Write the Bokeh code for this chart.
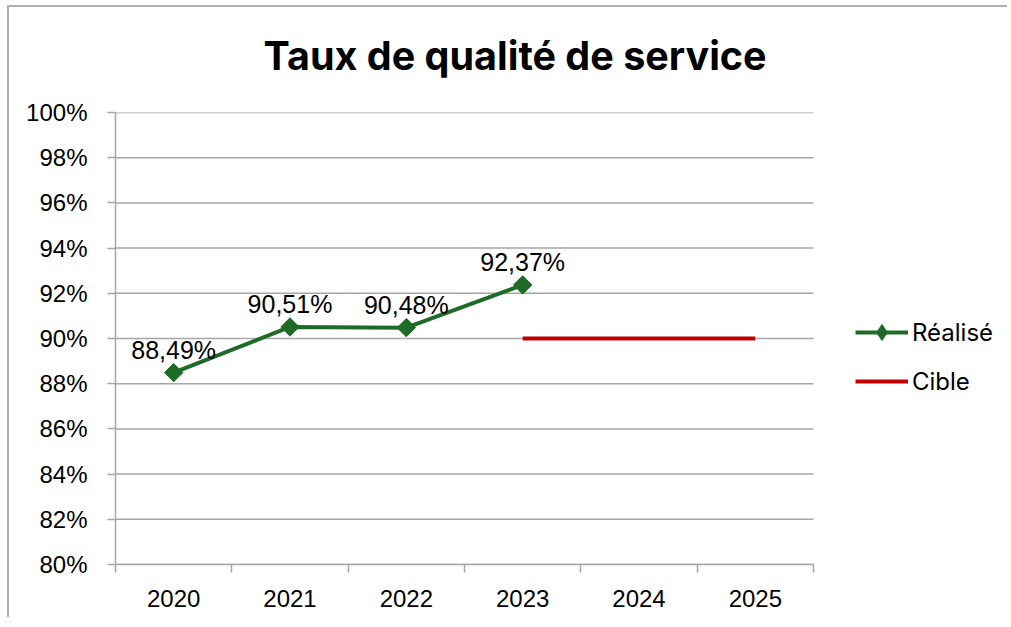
from bokeh.plotting import figure
from bokeh.models import (FixedTicker, Legend, LegendItem, ColumnDataSource,
                          CustomJSTickFormatter, Range1d)
from bokeh.core.properties import value
from bokeh.embed import file_html
from bokeh.resources import INLINE
import math

years = ["2020", "2021", "2022", "2023", "2024", "2025"]
realise = [88.49, 90.51, 90.48, 92.37]
cible = [None, None, None, 90.0, 90.0, 90.0]
y_ticks = [80, 82, 84, 86, 88, 90, 92, 94, 96, 98, 100]
title = "Taux de qualité de service"

GREEN = "#1e6b27"
RED = "#c00000"
GRID = "#a6a6a6"
FRAME = "#b0b0b0"

OX, OY = 9, 7  # canvas offset created by the outer border
W, H = 1000, 619 - OY
LEFT, TOP, BOTTOM, RIGHT = 115 - OX, 112 - OY, 55, 5
CHART_W = 698  # pixel width of the category area
frame_w = W - LEFT - RIGHT
n = len(years)
x_end = n * frame_w / CHART_W

xc = [i + 0.5 for i in range(n)]
x_r = xc[:len(realise)]
x_c = [x for x, v in zip(xc, cible) if v is not None]
y_c = [v for v in cible if v is not None]
labels = [f"{v:.2f}".replace(".", ",") + "%" for v in realise]

p = figure(width=W, height=H, output_backend="svg", toolbar_location=None,
           x_range=Range1d(0, x_end), y_range=Range1d(80, 100),
           min_border_left=LEFT, min_border_right=RIGHT, min_border_top=TOP,
           min_border_bottom=BOTTOM)
p.outline_line_color = None
p.background_fill_color = "white"
p.border_fill_color = "white"
p.styles = {"border-left": f"2px solid {FRAME}", "border-top": f"2px solid {FRAME}",
            "margin-left": "7px", "margin-top": "5px"}

# trailing blank line lifts the title above the plot area
p.title.text = title + "\n"
p.title.text_font = "Inter"
p.title.text_font_style = "bold"
p.title.text_font_size = "39.5px"
p.title.text_line_height = 0.68
p.title.text_color = "black"
p.title.align = "left"
p.title.vertical_align = "bottom"
p.title.offset = 148
p.title.standoff = 0

# axes
p.xaxis.bounds = (0, n)
p.xaxis.ticker = FixedTicker(ticks=xc, minor_ticks=list(range(n + 1)))
p.xaxis.major_label_overrides = {x: y for x, y in zip(xc, years)}
p.xaxis.major_tick_line_color = None
p.xaxis.major_tick_out = 0
p.xaxis.major_tick_in = 0
p.xaxis.minor_tick_line_color = GRID
p.xaxis.minor_tick_line_width = 1.5
p.xaxis.minor_tick_out = 8
p.xaxis.minor_tick_in = 0
p.xaxis.axis_line_color = GRID
p.xaxis.axis_line_width = 1.5
p.xaxis.major_label_standoff = 17
p.xgrid.grid_line_color = None

p.yaxis.ticker = FixedTicker(ticks=y_ticks)
p.yaxis.formatter = CustomJSTickFormatter(code="return tick.toFixed(0) + '%';")
p.yaxis.major_tick_line_color = GRID
p.yaxis.major_tick_line_width = 1.5
p.yaxis.major_tick_out = 8
p.yaxis.major_tick_in = 0
p.yaxis.minor_tick_line_color = None
p.yaxis.axis_line_color = GRID
p.yaxis.axis_line_width = 1.5
p.yaxis.major_label_standoff = 20
p.ygrid.grid_line_color = None

for ax in (p.xaxis, p.yaxis):
    ax.major_label_text_font = "Liberation Sans"
    ax.major_label_text_font_size = "24px"
    ax.major_label_text_color = "black"

# horizontal gridlines limited to the category area
p.segment(x0=[0] * len(y_ticks), x1=[n] * len(y_ticks), y0=y_ticks, y1=y_ticks,
          line_color=GRID, line_width=1.5, level="underlay")

src = ColumnDataSource(dict(x=x_r, y=realise, t=labels))
l1 = p.line("x", "y", source=src, line_color=GREEN, line_width=4)
# diamond used for the legend key (hidden under the rotated squares in the plot)
leg_marker = p.scatter("x", "y", source=src, marker="diamond", size=16,
                       fill_color=GREEN, line_color=GREEN, line_width=1)
p.scatter("x", "y", source=src, marker="square", angle=math.pi / 4, size=13,
          fill_color=GREEN, line_color=GREEN)
l2 = p.line(x_c, y_c, line_color=RED, line_width=4)

p.text("x", "y", text="t", source=src, text_align="center", text_baseline="bottom",
       y_offset=-9, text_font=value("Liberation Sans"), text_font_size="25px",
       text_color="black")

legend = Legend(items=[LegendItem(label="Réalisé", renderers=[l1, leg_marker]),
                       LegendItem(label="Cible", renderers=[l2])],
                location=(740, 163), orientation="vertical",
                glyph_width=53, glyph_height=40, spacing=9, padding=0, margin=0,
                label_standoff=4, border_line_color=None,
                background_fill_alpha=0, label_text_font="Inter",
                label_text_font_size="24px", label_text_color="black")
p.add_layout(legend, "center")

open("out.html", "w").write(file_html(p, INLINE))
